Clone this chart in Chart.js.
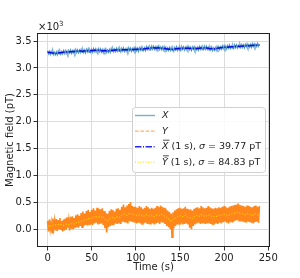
<!DOCTYPE html>
<html><head><meta charset="utf-8">
<script src="https://cdn.jsdelivr.net/npm/chart.js@4.4.1/dist/chart.umd.min.js"></script>
<style>html,body{margin:0;padding:0;background:#fff}#wrap{width:300px;height:278px;position:relative}</style>
</head><body><div id="wrap"><canvas id="c"></canvas></div>
<script>
// time steps (s)
const stepRaw = 1;    // raw samples shown every 1 s
const stepMean = 2;   // 1 s means shown every 2 s

// Magnetic field values in pT
const xRaw = [3320,3264,3308,3250,3310,3262,3313,3247,3291,3248,
3297,3245,3314,3261,3309,3254,3304,3262,3322,3269,
3323,3269,3316,3262,3326,3281,3336,3272,3319,3277,
3328,3274,3341,3288,3336,3281,3331,3287,3346,3291,
3342,3288,3335,3281,3346,3301,3356,3291,3337,3294,
3345,3291,3358,3305,3353,3297,3346,3301,3358,3303,
3353,3296,3340,3284,3347,3300,3353,3289,3335,3293,
3344,3292,3360,3308,3356,3301,3350,3306,3365,3311,
3364,3309,3355,3300,3364,3319,3373,3308,3354,3311,
3362,3308,3375,3321,3367,3311,3360,3317,3376,3322,
3375,3320,3366,3311,3375,3330,3384,3320,3367,3325,
3377,3325,3394,3343,3392,3338,3388,3345,3404,3351,
3404,3348,3393,3337,3400,3355,3409,3343,3387,3341,
3388,3332,3396,3340,3384,3326,3372,3326,3382,3327,
3378,3322,3366,3313,3379,3336,3392,3328,3375,3332,
3383,3330,3397,3344,3391,3335,3384,3340,3399,3345,
3396,3340,3384,3328,3390,3344,3396,3330,3375,3333,
3385,3333,3401,3348,3395,3340,3389,3345,3404,3350,
3401,3344,3387,3329,3389,3340,3391,3325,3370,3328,
3379,3328,3398,3347,3396,3343,3394,3352,3412,3360,
3413,3359,3405,3351,3415,3370,3425,3361,3408,3366,
3417,3364,3431,3378,3426,3371,3421,3378,3437,3383,
3436,3382,3428,3374,3438,3393,3447,3383,3430,3387,
3438,3384,3451,3398,3446,3391,3441,3397,3456,3402,
3440];

const xMean = [3290,3288,3282,3278,3276,3275,3280,3283,3286,3290,3293,3296,3298,3301,3304,3306,3307,3310,3313,3314,
3312,3315,3318,3321,3322,3323,3324,3327,3328,3326,3323,3320,3319,3318,3320,3322,3326,3330,3332,3333,
3334,3335,3336,3338,3339,3340,3341,3341,3342,3344,3345,3346,3347,3349,3352,3355,3360,3366,3370,3372,
3374,3373,3372,3374,3372,3366,3362,3358,3354,3350,3348,3346,3351,3357,3360,3361,3363,3365,3366,3367,
3366,3364,3362,3361,3360,3363,3367,3369,3371,3372,3371,3367,3361,3356,3355,3357,3364,3370,3376,3380,
3383,3385,3387,3390,3393,3395,3397,3400,3403,3405,3406,3408,3410,3412,3415,3416,3417,3420,3423,3424,3425];

const yRaw = [150,-40,180,0,120,-60,200,20,160,-20,
190,-30,170,10,210,-10,150,-40,180,-20,
200,-10,220,30,170,-20,230,10,240,0,
210,20,260,40,280,30,250,60,300,40,
330,60,290,80,340,70,360,90,320,100,
360,80,390,110,350,120,400,90,380,100,
370,110,390,80,340,20,300,-60,290,40,
340,60,370,90,360,80,330,110,380,100,
390,120,360,100,420,140,460,130,410,120,
440,110,470,150,500,140,430,130,420,120,
410,110,400,120,430,110,410,100,380,110,
400,120,430,100,410,110,380,90,400,110,
380,90,400,110,430,120,410,100,440,130,
420,120,400,100,380,60,350,40,320,0,
290,-150,310,20,350,60,370,90,390,100,
400,110,380,90,390,100,420,110,380,90,
360,30,370,0,350,60,380,90,400,110,
410,120,390,100,430,120,410,110,390,100,
400,110,430,120,410,100,390,80,380,90,
400,110,390,100,410,120,400,110,420,130,
430,140,410,120,400,110,420,130,430,140,
440,150,450,160,460,170,480,160,450,150,
440,140,430,130,420,120,440,140,430,130,
420,120,410,110,430,130,440,140,420,120,
430];

const yMean = [60,70,55,80,90,75,85,95,80,70,90,100,85,95,110,100,120,140,130,150,
170,160,180,200,190,210,230,220,240,230,220,240,210,170,160,190,210,220,200,230,
240,220,260,280,270,260,290,300,280,270,260,250,270,260,240,250,270,260,240,250,
230,250,270,260,280,270,250,230,210,180,150,170,200,220,240,250,230,240,260,230,
210,220,200,230,250,260,240,270,260,240,250,270,260,240,230,250,240,260,250,270,
280,260,250,270,280,290,300,310,320,300,290,280,270,290,280,270,260,280,290,270,280];

const seriesLabels = ['X', 'Y', 'X̄ (1 s)', 'Ȳ (1 s)'];
const sigmaX = '39.77', sigmaY = '84.83';
const xTickValues = [0,50,100,150,200,250];
const yTickValues = [0,500,1000,1500,2000,2500,3000,3500];

function pts(arr, step){ return arr.map((v,i)=>({x:i*step, y:v})); }

const FONT = "'DejaVu Sans', sans-serif";
const C_X = 'rgba(31,119,180,0.6)';
const C_Y = 'rgba(255,127,14,0.6)';
const C_XM = 'rgba(0,0,255,0.85)';
const C_YM = 'rgba(255,215,0,0.7)';

const framePlugin = {
  id:'frame',
  afterDatasetsDraw(chart){
    const {ctx, chartArea:a} = chart;
    ctx.save();
    ctx.strokeStyle = '#222'; ctx.lineWidth = 1;
    ctx.strokeRect(Math.round(a.left)+0.5, Math.round(a.top)+0.5, Math.round(a.right-a.left)-1, Math.round(a.bottom-a.top)-1);
    // offset text x10^3
    ctx.fillStyle = '#222';
    ctx.font = '10px ' + FONT;
    ctx.textBaseline = 'alphabetic';
    ctx.fillText('×10', a.left+1, a.top-3);
    const w = ctx.measureText('×10').width;
    ctx.font = '7px ' + FONT;
    ctx.fillText('3', a.left+1+w, a.top-7);
    // legend
    const L = {x:132.5, y:107.5, w:133, h:65};
    ctx.fillStyle = 'rgba(255,255,255,0.85)';
    ctx.strokeStyle = '#d0d0d0';
    ctx.lineWidth = 1;
    ctx.beginPath();
    if (ctx.roundRect) ctx.roundRect(L.x, L.y, L.w, L.h, 3); else ctx.rect(L.x,L.y,L.w,L.h);
    ctx.fill(); ctx.stroke();
    const rows = [
      {c:C_X, dash:[], label:seriesLabels[0]},
      {c:C_Y, dash:[3.7,1.6], label:seriesLabels[1]},
      {c:C_XM, dash:[6.4,1.6,1,1.6], label:seriesLabels[2], sigma:sigmaX},
      {c:C_YM, dash:[1,1.6], label:seriesLabels[3], sigma:sigmaY}
    ];
    rows.forEach((r,i)=>{
      const y = 115.5 + i*15.6;
      ctx.strokeStyle = r.c; ctx.lineWidth = 1.4; ctx.setLineDash(r.dash);
      ctx.beginPath(); ctx.moveTo(135, y); ctx.lineTo(155, y); ctx.stroke();
      ctx.setLineDash([]);
      ctx.fillStyle = '#222';
      ctx.textBaseline = 'middle';
      let tx = 162;
      const letter = r.label.charAt(0);
      ctx.font = 'italic 9.5px ' + FONT;
      ctx.fillText(letter, tx, y);
      const lw = ctx.measureText(letter).width;
      if (r.sigma){
        ctx.strokeStyle = '#222'; ctx.lineWidth = 0.8;
        ctx.beginPath(); ctx.moveTo(tx+1, y-6.5); ctx.lineTo(tx+lw+1, y-6.5); ctx.stroke();
        tx += lw;
        ctx.font = '9.5px ' + FONT;
        const s1 = ' (1 s), ';
        ctx.fillText(s1, tx, y); tx += ctx.measureText(s1).width;
        ctx.font = 'italic 9.5px ' + FONT;
        ctx.fillText('σ', tx, y); tx += ctx.measureText('σ').width;
        ctx.font = '9.5px ' + FONT;
        ctx.fillText(' = ' + r.sigma + ' pT', tx, y);
      }
    });
    ctx.restore();
  }
};

new Chart(document.getElementById('c'), {
  type:'line',
  data:{datasets:[
    {label:'X', data:pts(xRaw, stepRaw), borderColor:'rgba(31,119,180,0.8)', borderWidth:1.2, pointRadius:0, order:4},
    {label:'Y', data:pts(yRaw, stepRaw), borderColor:'rgba(255,127,14,0.95)', borderWidth:1.6, pointRadius:0, order:3},
    {label:'Xm', data:pts(xMean, stepMean), borderColor:'rgba(0,0,230,0.9)', borderWidth:1.5, borderDash:[6.4,1.6,1,1.6], pointRadius:0, order:2},
    {label:'Ym', data:pts(yMean, stepMean), borderColor:'rgba(255,205,0,0.95)', borderWidth:1.2, borderDash:[1.2,1.6], pointRadius:0, order:1}
  ]},
  options:{
    responsive:true, maintainAspectRatio:false, animation:false,
    layout:{padding:{left:0, right:30, top:33, bottom:0}},
    plugins:{legend:{display:false}, tooltip:{enabled:false}},
    scales:{
      x:{type:'linear', min:-12, max:252,
        afterBuildTicks(s){ s.ticks = xTickValues.map(v=>({value:v})); },
        afterFit(s){ s.height = 31; },
        border:{display:false},
        grid:{color:'#dcdcdc', lineWidth:1, tickColor:'#333', tickLength:3.5},
        ticks:{color:'#222', font:{family:FONT, size:10}, padding:2, maxRotation:0},
        title:{display:true, text:'Time (s)', color:'#222', font:{family:FONT, size:10}, padding:{top:0,bottom:5}}
      },
      y:{type:'linear', min:-330, max:3650,
        afterBuildTicks(s){ s.ticks = yTickValues.map(v=>({value:v})); },
        afterFit(s){ s.width = 37; },
        border:{display:false},
        grid:{color:'#dcdcdc', lineWidth:1, tickColor:'#333', tickLength:3.5},
        ticks:{color:'#222', font:{family:FONT, size:10}, padding:2, callback:v=>(v/1000).toFixed(1)},
        title:{display:true, text:'Magnetic field (pT)', color:'#222', font:{family:FONT, size:10}, padding:{top:4,bottom:0}}
      }
    }
  },
  plugins:[framePlugin]
});
</script></body></html>
